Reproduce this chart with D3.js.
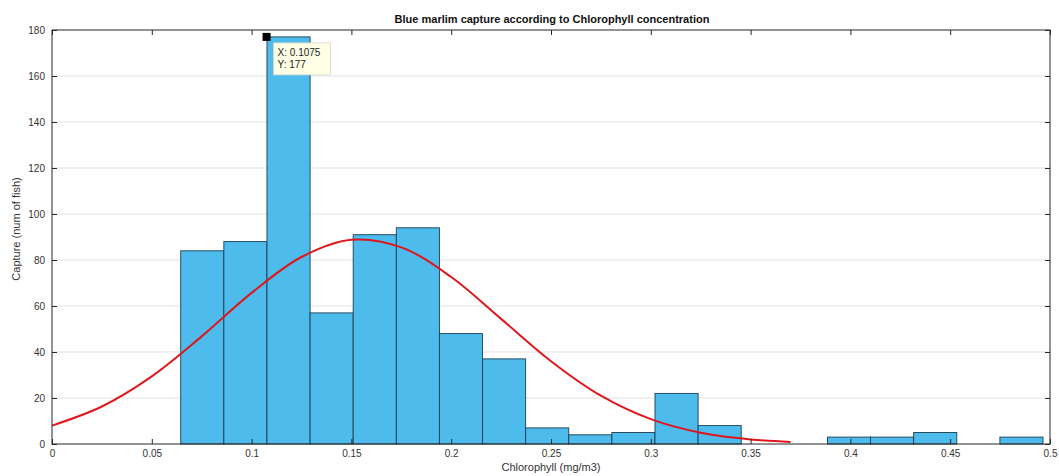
<!DOCTYPE html>
<html>
<head>
<meta charset="utf-8">
<script src="https://cdn.jsdelivr.net/npm/d3@7"></script>
<style>
  body { margin: 0; background: #fff; }
  text { font-family: "Liberation Sans", Arial, sans-serif; }
</style>
</head>
<body>
<div id="chart"></div>
<script>
// histogram bins (left edges) and counts
const binStart = 0.0645;
const binWidth = 0.0216;
const counts = [84, 88, 177, 57, 91, 94, 48, 37, 7, 4, 5, 22, 8, 0, 0, 3, 3, 5, 0, 3];

// fitted curve
const curveX = [0, 0.025, 0.05, 0.075, 0.1, 0.125, 0.15, 0.175, 0.2, 0.225, 0.25, 0.275, 0.3, 0.325, 0.35, 0.37];
const curveY = [8, 16.3, 29.4, 46.8, 65.7, 81.3, 88.8, 85.5, 72.6, 54.4, 36, 21, 10.8, 4.9, 2, 0.9];

const xTicks = [0, 0.05, 0.1, 0.15, 0.2, 0.25, 0.3, 0.35, 0.4, 0.45, 0.5];
const yTicks = [0, 20, 40, 60, 80, 100, 120, 140, 160, 180];

const tip = { x: 0.1075, y: 177 };

const W = 1059, H = 476;
const mLeft = 52, mRight = 1050, mTop = 30, mBottom = 444;

const svg = d3.select("#chart").append("svg")
  .attr("width", W)
  .attr("height", H);

const x = d3.scaleLinear().domain([0, 0.5]).range([mLeft, mRight]);
const y = d3.scaleLinear().domain([0, 180]).range([mBottom, mTop]);

// grid
svg.append("g")
  .selectAll("line")
  .data(yTicks.slice(1, -1))
  .enter().append("line")
  .attr("x1", mLeft).attr("x2", mRight)
  .attr("y1", d => y(d)).attr("y2", d => y(d))
  .attr("stroke", "#e3e3e3")
  .attr("stroke-width", 1);

// bars
const bins = counts.map((c, i) => ({ x0: binStart + i * binWidth, x1: binStart + (i + 1) * binWidth, n: c }))
  .filter(d => d.n > 0);

svg.selectAll(".bar")
  .data(bins)
  .enter().append("rect")
  .attr("class", "bar")
  .attr("x", d => x(d.x0))
  .attr("width", d => x(d.x1) - x(d.x0))
  .attr("y", d => y(d.n))
  .attr("height", d => y(0) - y(d.n))
  .attr("fill", "#4dbbec")
  .attr("stroke", "#1c3d52")
  .attr("stroke-width", 0.9);

// fitted curve
const line = d3.line()
  .x(d => x(d[0]))
  .y(d => y(d[1]))
  .curve(d3.curveCatmullRom);

svg.append("path")
  .datum(curveX.map((v, i) => [v, curveY[i]]))
  .attr("d", line)
  .attr("fill", "none")
  .attr("stroke", "#e0161c")
  .attr("stroke-width", 2);

// axes (MATLAB style: ticks inside, box on)
const tickLen = 5;
const axisColor = "#262626";

svg.append("g")
  .attr("transform", `translate(0,${mBottom})`)
  .call(d3.axisBottom(x).tickValues(xTicks).tickSize(-tickLen).tickPadding(6).tickFormat(d3.format("~g")))
  .call(g => g.select(".domain").remove());

svg.append("g")
  .attr("transform", `translate(0,${mTop})`)
  .call(d3.axisTop(x).tickValues(xTicks).tickSize(-tickLen).tickFormat(""))
  .call(g => g.select(".domain").remove());

svg.append("g")
  .attr("transform", `translate(${mLeft},0)`)
  .call(d3.axisLeft(y).tickValues(yTicks).tickSize(-tickLen).tickPadding(7))
  .call(g => g.select(".domain").remove());

svg.append("g")
  .attr("transform", `translate(${mRight},0)`)
  .call(d3.axisRight(y).tickValues(yTicks).tickSize(-tickLen).tickFormat(""))
  .call(g => g.select(".domain").remove());

svg.selectAll(".tick line").attr("stroke", axisColor);
svg.selectAll(".tick text")
  .attr("fill", "#333")
  .style("font-size", "10px")
  .style("font-family", "Liberation Sans, Arial, sans-serif");

svg.append("rect")
  .attr("x", mLeft).attr("y", mTop)
  .attr("width", mRight - mLeft).attr("height", mBottom - mTop)
  .attr("fill", "none")
  .attr("stroke", axisColor)
  .attr("stroke-width", 1);

// labels
svg.append("text")
  .attr("x", (mLeft + mRight) / 2 + 1)
  .attr("y", 23)
  .attr("text-anchor", "middle")
  .style("font-size", "11px")
  .style("font-weight", "bold")
  .attr("fill", "#111")
  .text("Blue marlim capture according to Chlorophyll concentration");

svg.append("text")
  .attr("x", (mLeft + mRight) / 2)
  .attr("y", 471)
  .attr("text-anchor", "middle")
  .style("font-size", "11px")
  .attr("fill", "#333")
  .text("Chlorophyll (mg/m3)");

svg.append("text")
  .attr("transform", `translate(20,${(mTop + mBottom) / 2 - 8}) rotate(-90)`)
  .attr("text-anchor", "middle")
  .style("font-size", "11px")
  .attr("fill", "#333")
  .text("Capture (num of fish)");

// data tip
const tx = x(tip.x), ty = y(tip.y);
svg.append("rect")
  .attr("x", tx - 4).attr("y", ty - 4)
  .attr("width", 8).attr("height", 8)
  .attr("fill", "#000");

const tipG = svg.append("g").attr("transform", `translate(${tx + 7},${ty + 6})`);
tipG.append("rect")
  .attr("width", 57).attr("height", 32)
  .attr("fill", "#ffffe6")
  .attr("stroke", "#d8d8c8")
  .attr("stroke-width", 0.8);
tipG.append("text")
  .attr("x", 4).attr("y", 13)
  .style("font-size", "10px")
  .attr("fill", "#222")
  .text("X: " + tip.x);
tipG.append("text")
  .attr("x", 4).attr("y", 25)
  .style("font-size", "10px")
  .attr("fill", "#222")
  .text("Y: " + tip.y);
</script>
</body>
</html>
